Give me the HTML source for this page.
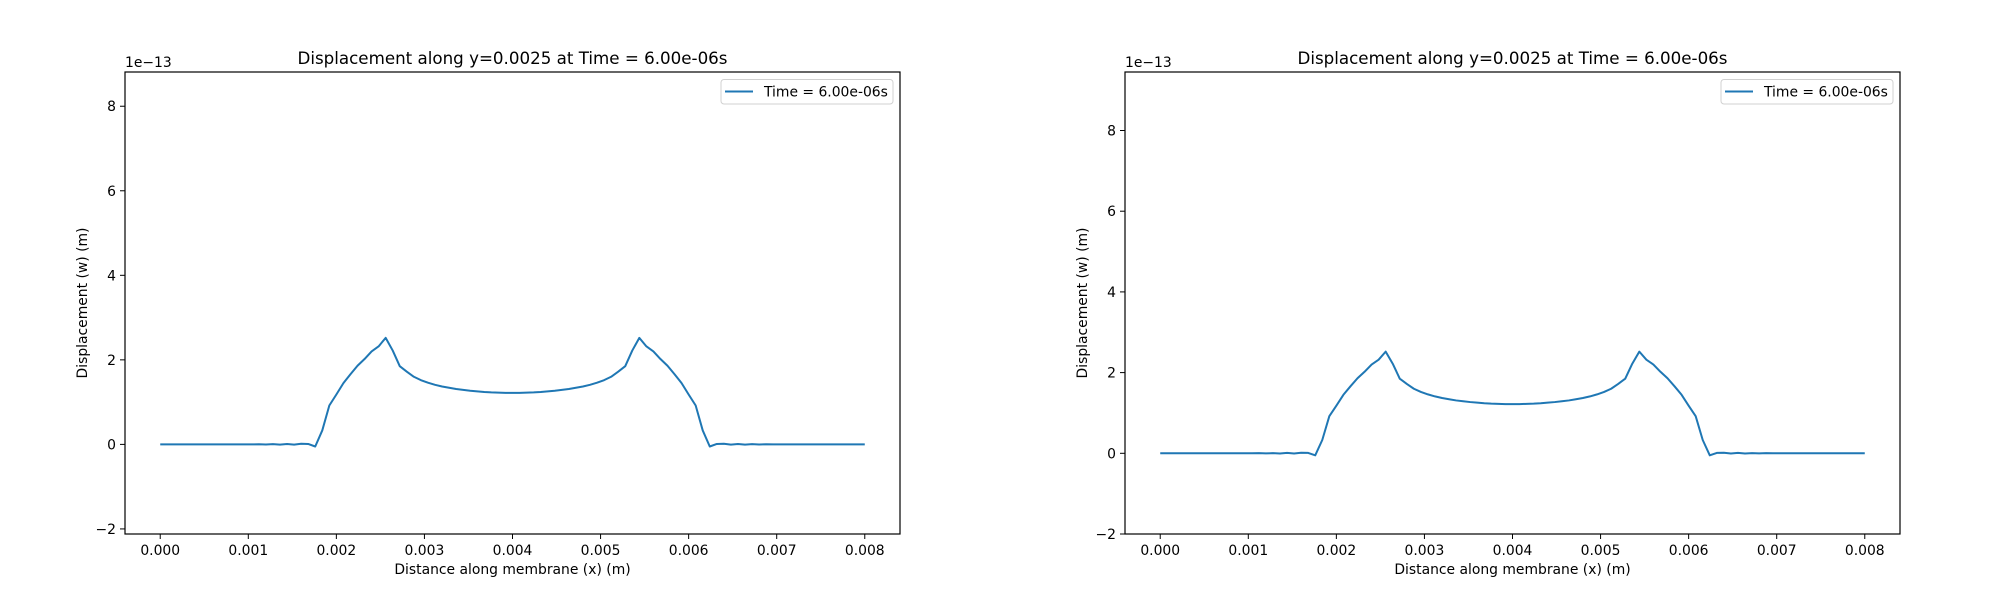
<!DOCTYPE html>
<html><head><meta charset="utf-8"><style>
body{margin:0;background:#fff;}
svg{display:block;font-family:"DejaVu Sans","Liberation Sans",sans-serif;}
</style></head><body>
<svg id="fig" width="2000" height="600" viewBox="0 0 2000 600" xmlns="http://www.w3.org/2000/svg"></svg>
<script>
const xValues = [];
for (let i = 0; i <= 100; i++) xValues.push(i * 0.00008);
const wValues = [
0,0,0,0,0,0,0,0,0,0,
0,0,0,0,0.003,-0.003,0.005,-0.005,0.01,-0.005,
0.015,0.01,-0.05,0.33,0.92,1.18,1.45,1.66,1.86,2.02,
2.2,2.32,2.52,2.22,1.85,1.72,1.6,1.52,1.46,1.41,
1.37,1.34,1.31,1.29,1.27,1.255,1.24,1.23,1.225,1.22,
1.22,
1.22,1.225,1.23,1.24,1.255,1.27,1.29,1.31,1.34,1.37,
1.41,1.46,1.52,1.6,1.72,1.85,2.22,2.52,2.32,2.2,
2.02,1.86,1.66,1.45,1.18,0.92,0.33,-0.05,0.01,0.015,
-0.005,0.01,-0.005,0.005,-0.003,0.003,0,0,0,0,
0,0,0,0,0,0,0,0,0,0
];
const xTicks = [0,0.001,0.002,0.003,0.004,0.005,0.006,0.007,0.008];
const xTickLabels = ["0.000","0.001","0.002","0.003","0.004","0.005","0.006","0.007","0.008"];
const yTicks = [-2,0,2,4,6,8];
const yTickLabels = ["\u22122","0","2","4","6","8"];
const panelYMin = [-2.12, -2];
const panelYMax = [8.81, 9.45];
const titleText = "Displacement along y=0.0025 at Time = 6.00e-06s";
const legendText = "Time = 6.00e-06s";

const NS = "http://www.w3.org/2000/svg";
const fig = document.getElementById("fig");
function mk(tag, attrs, parent, text){
  const e = document.createElementNS(NS, tag);
  for (const k in attrs) e.setAttribute(k, attrs[k]);
  if (text !== undefined) e.textContent = text;
  parent.appendChild(e);
  return e;
}
const offsets = [125, 1125];
offsets.forEach((L, p) => {
  const R = L + 775, T = 72, B = 534;
  const xmin = -0.0004, xmax = 0.0084;
  const ymin = panelYMin[p], ymax = panelYMax[p];
  const sx = v => L + (v - xmin) / (xmax - xmin) * (R - L);
  const sy = v => B - (v - ymin) / (ymax - ymin) * (B - T);
  const g = mk("g", {}, fig);
  
  

  const t = mk("text", {x:(L+R)/2, y:64, "text-anchor":"middle", "font-size":"16.7", fill:"#000"}, g, titleText);
  
  

  xTicks.forEach((v, i) => {
    const x = sx(v);
    const tk = mk("line", {x1:x, x2:x, y1:B, y2:B+5, stroke:"#000", "stroke-width":1}, g);
    
    
    const lb = mk("text", {x:x, y:555, "text-anchor":"middle", "font-size":"13.9", fill:"#000"}, g, xTickLabels[i]);
    
    
  });
  yTicks.forEach((v, i) => {
    const y = sy(v);
    const tk = mk("line", {x1:L-5, x2:L, y1:y, y2:y, stroke:"#000", "stroke-width":1}, g);
    
    
    const lb = mk("text", {x:L-9, y:y+5, "text-anchor":"end", "font-size":"13.9", fill:"#000"}, g, yTickLabels[i]);
    
    
  });
  const off = mk("text", {x:L, y:67, "font-size":"13.9", fill:"#000"}, g, "1e\u221213");
  
  

  const xl = mk("text", {x:(L+R)/2, y:574, "text-anchor":"middle", "font-size":"13.9", fill:"#000"}, g, "Distance along membrane (x) (m)");
  
  
  const yl = mk("text", {x:0, y:0, transform:`translate(${L-38},${(T+B)/2}) rotate(-90)`, "text-anchor":"middle", "font-size":"13.9", fill:"#000"}, g, "Displacement (w) (m)");
  
  

  let d = "";
  xValues.forEach((xv, i) => { d += (i ? "L" : "M") + sx(xv).toFixed(2) + "," + sy(wValues[i]).toFixed(2); });
  const line = mk("path", {d:d, fill:"none", stroke:"#1f77b4", "stroke-width":2, "stroke-linejoin":"round"}, g);
  
  

  const fr = mk("rect", {x:L, y:T, width:R-L, height:B-T, fill:"none", stroke:"#000", "stroke-width":1.2}, g);
  
  

  const lg = mk("g", {}, g);
  
  
  mk("rect", {x:L+596, y:79.5, width:172, height:24.5, rx:3, fill:"#fff", stroke:"#d0d0d0", "stroke-width":1}, lg);
  const ll = mk("line", {x1:L+600, x2:L+628, y1:91.5, y2:91.5, stroke:"#1f77b4", "stroke-width":2}, lg);
  
  
  const lt = mk("text", {x:L+639, y:96.5, "font-size":"13.9", fill:"#000"}, lg, legendText);
  
  
});
</script>
</body></html>
